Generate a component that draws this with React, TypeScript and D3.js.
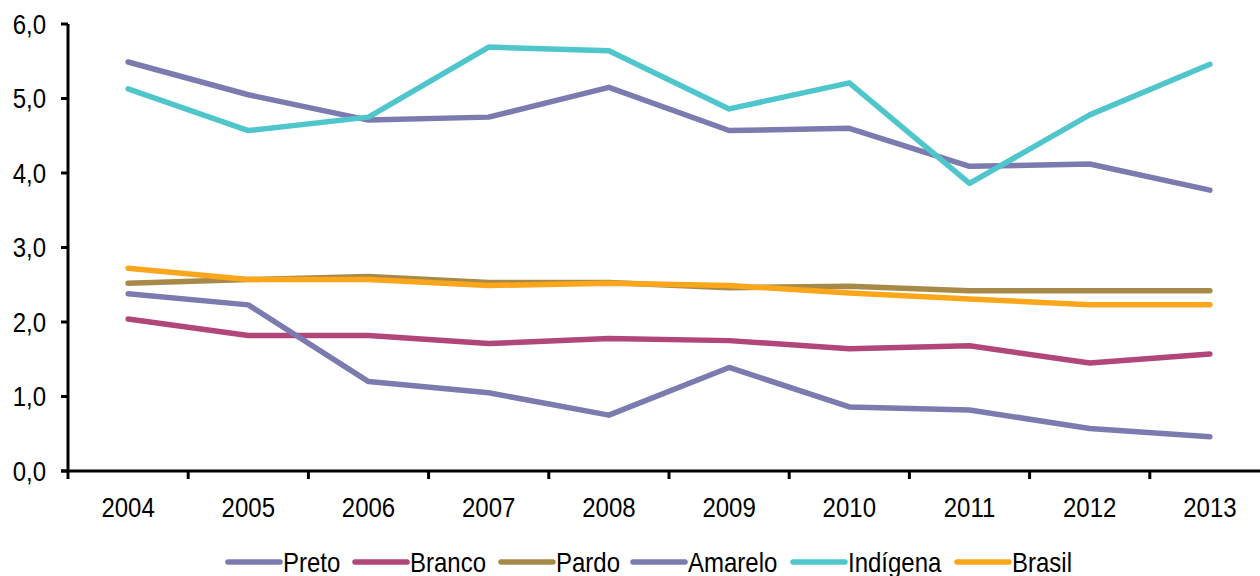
import React from "react";
import * as d3 from "d3";

const years = ["2004", "2005", "2006", "2007", "2008", "2009", "2010", "2011", "2012", "2013"];
const preto = [5.49, 5.05, 4.71, 4.75, 5.15, 4.57, 4.6, 4.09, 4.12, 3.77];
const branco = [2.04, 1.82, 1.82, 1.71, 1.78, 1.75, 1.64, 1.68, 1.45, 1.57];
const pardo = [2.52, 2.57, 2.61, 2.53, 2.53, 2.46, 2.48, 2.42, 2.42, 2.42];
const amarelo = [2.38, 2.23, 1.2, 1.05, 0.75, 1.39, 0.86, 0.82, 0.57, 0.46];
const indigena = [5.13, 4.57, 4.75, 5.69, 5.64, 4.86, 5.21, 3.86, 4.78, 5.46];
const brasil = [2.72, 2.57, 2.57, 2.49, 2.52, 2.49, 2.39, 2.31, 2.23, 2.23];
const yTicks = [0, 1, 2, 3, 4, 5, 6];

const series = [
  { name: "Preto", values: preto, color: "#7b7bb0" },
  { name: "Branco", values: branco, color: "#b0467a" },
  { name: "Pardo", values: pardo, color: "#a88a48" },
  { name: "Amarelo", values: amarelo, color: "#7b7bb0" },
  { name: "Indígena", values: indigena, color: "#4fc6cc" },
  { name: "Brasil", values: brasil, color: "#fca61c" },
];

const legendX = [228, 355, 501, 633, 793, 957];

export default function App() {
  const W = 1260, H = 576;
  const left = 68, right = 1270, top = 24, bottom = 471;
  const x = d3.scaleBand<string>().domain(years).range([left, right]);
  const y = d3.scaleLinear().domain([0, 6]).range([bottom, top]);
  const line = d3
    .line<number>()
    .x((_, i) => (x(years[i]) as number) + x.bandwidth() / 2)
    .y((d) => y(d));
  const font = "'Liberation Sans', Arial, sans-serif";
  const tickEdges = years.map((yr) => x(yr) as number);
  const fs = 24;
  const sy = 1.15;

  return (
    <svg width={W} height={H} style={{ position: "absolute", left: 0, top: 0 }} fontFamily={font}>
      <rect width={W} height={H} fill="#fff" />
      {/* y axis */}
      <line x1={left} x2={left} y1={top} y2={bottom} stroke="#000" strokeWidth={3} />
      {yTicks.map((t) => (
        <g key={t}>
          <line x1={left - 7} x2={left} y1={y(t)} y2={y(t)} stroke="#000" strokeWidth={3} />
          <text
            x={46}
            y={y(t)}
            textAnchor="end"
            dominantBaseline="central"
            fontSize={fs}
            transform={`translate(0,${y(t)}) scale(1,${sy}) translate(0,${-y(t)})`}
            fill="#000"
          >
            {t.toFixed(1).replace(".", ",")}
          </text>
        </g>
      ))}
      {/* x axis */}
      <line x1={left - 7} x2={right} y1={bottom} y2={bottom} stroke="#000" strokeWidth={3} />
      {tickEdges.map((tx, i) => (
        <line key={i} x1={tx} x2={tx} y1={bottom} y2={bottom + 8} stroke="#000" strokeWidth={3} />
      ))}
      {years.map((yr) => {
        const cx = (x(yr) as number) + x.bandwidth() / 2;
        return (
          <text
            key={yr}
            x={cx}
            y={517}
            textAnchor="middle"
            fontSize={fs}
            fill="#000"
            transform={`translate(0,517) scale(1,${sy}) translate(0,-517)`}
          >
            {yr}
          </text>
        );
      })}
      {/* lines */}
      {series.map((s) => (
        <path
          key={s.name}
          d={line(s.values) || ""}
          fill="none"
          stroke={s.color}
          strokeWidth={5.5}
          strokeLinejoin="round"
          strokeLinecap="round"
        />
      ))}
      {/* legend */}
      {series.map((s, i) => (
        <g key={s.name}>
          <line
            x1={legendX[i]}
            x2={legendX[i] + 52}
            y1={562}
            y2={562}
            stroke={s.color}
            strokeWidth={5.5}
            strokeLinecap="round"
          />
          <text
            x={legendX[i] + 55}
            y={572}
            fontSize={fs}
            fill="#000"
            transform={`translate(0,572) scale(1,${sy}) translate(0,-572)`}
          >
            {s.name}
          </text>
        </g>
      ))}
    </svg>
  );
}
